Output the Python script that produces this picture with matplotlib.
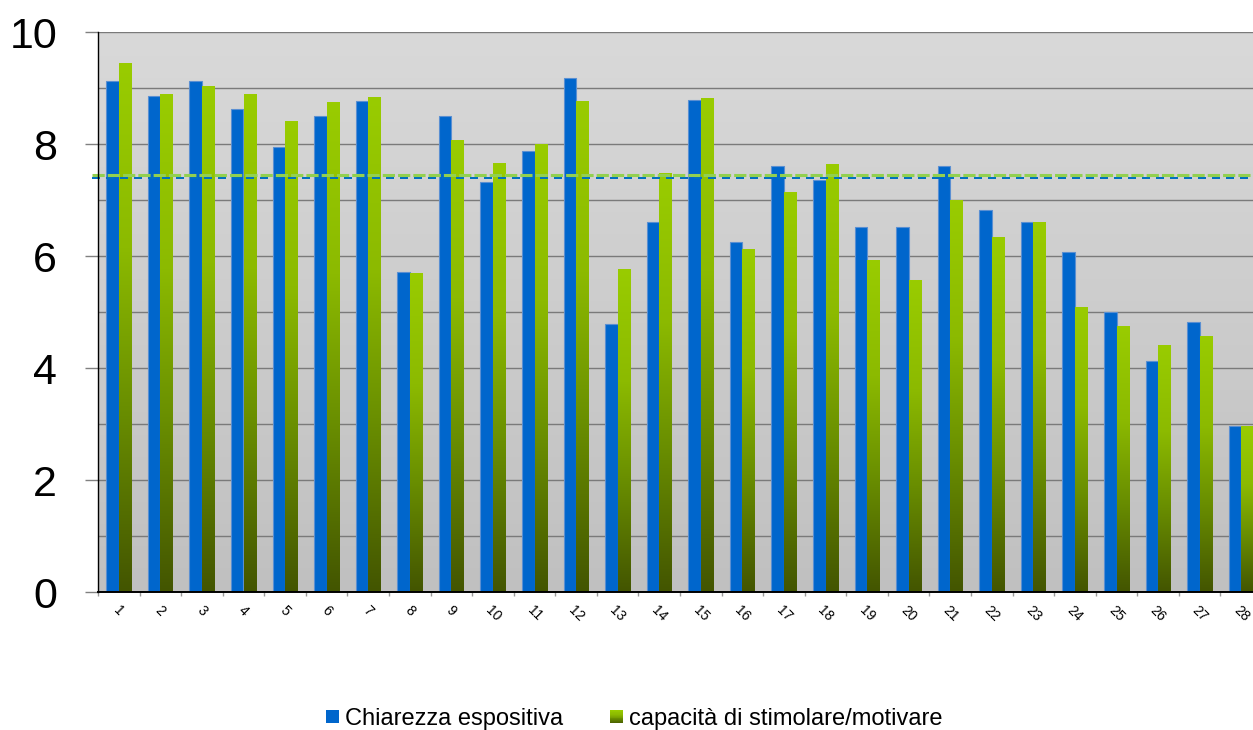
import numpy as np
import matplotlib
matplotlib.use('Agg')
import matplotlib.pyplot as plt
from matplotlib.colors import LinearSegmentedColormap
from matplotlib.patches import Rectangle, Patch
from matplotlib.legend_handler import HandlerBase
from matplotlib.ticker import MultipleLocator, FixedLocator

# ---------------- data ----------------
categories = [str(i) for i in range(1, 29)]
chiarezza = [9.13, 8.85, 9.13, 8.63, 7.94, 8.50, 8.76, 5.72, 8.50, 7.32,
             7.88, 9.18, 4.79, 6.61, 8.79, 6.25, 7.61, 7.35, 6.52, 6.51,
             7.60, 6.82, 6.61, 6.08, 5.00, 4.12, 4.83, 2.96]
capacita = [9.45, 8.89, 9.04, 8.89, 8.41, 8.75, 8.84, 5.70, 8.07, 7.66,
            8.00, 8.77, 5.77, 7.48, 8.82, 6.13, 7.14, 7.64, 5.93, 5.57,
            7.00, 6.34, 6.61, 5.09, 4.75, 4.41, 4.57, 2.96]
series_names = ['Chiarezza espositiva', 'capacità di stimolare/motivare']
ref_chiarezza = 7.40
ref_capacita = 7.45
yticks = [0, 2, 4, 6, 8, 10]

# ---------------- style ----------------
plt.rcParams['font.family'] = ['Liberation Sans', 'DejaVu Sans']
BLUE = '#0066cc'
green_cmap = LinearSegmentedColormap.from_list(
    'g', [(0.0, '#435500'), (0.35, '#6a8f00'), (0.65, '#8cba00'), (1.0, '#99cc00')])
bg_cmap = LinearSegmentedColormap.from_list('bg', ['#c0c0c0', '#d9d9d9'])

fig = plt.figure(figsize=(12.53, 7.30), dpi=100)
ax = fig.add_axes([98 / 1253, 1 - 592 / 730, 1164 / 1253, 560 / 730])

x = np.arange(len(categories))
bw = 0.30

# background gradient
grad = np.linspace(0, 1, 256).reshape(-1, 1)
ax.imshow(grad, extent=[0, 1, 0, 1], transform=ax.transAxes, origin='lower',
          cmap=bg_cmap, aspect='auto', zorder=0)

ax.bar(x - 0.15, chiarezza, width=bw, color=BLUE, edgecolor='#5a8fd2',
       linewidth=0.8, zorder=2)
gbars = ax.bar(x + 0.15, capacita, width=bw, color='#99cc00', edgecolor='none',
               zorder=2)
for b in gbars:
    x0, y0 = b.get_x(), b.get_y()
    w, h = b.get_width(), b.get_height()
    im = ax.imshow(grad, extent=[x0, x0 + w, y0, y0 + h], origin='lower',
                   cmap=green_cmap, aspect='auto', zorder=2.1)
    im.set_clip_path(b)

# reference dashed lines
ax.axhline(ref_chiarezza, xmin=-0.005, xmax=1, color='#0070c0', lw=1.44,
           dashes=(4, 3), zorder=3, clip_on=False)
ax.axhline(ref_capacita, xmin=-0.005, xmax=1, color='#92d050', lw=2.2,
           dashes=(4, 1), zorder=3.1, clip_on=False)

ax.set_xlim(-0.5, len(categories) - 0.5)
ax.set_ylim(0, 10)
ax.set_aspect('auto')

# axes / ticks
for s in ['top', 'right']:
    ax.spines[s].set_visible(False)
ax.spines['left'].set_color('black')
ax.spines['left'].set_linewidth(1.0)
ax.spines['bottom'].set_color('black')
ax.spines['bottom'].set_linewidth(1.4)
ax.spines['left'].set_zorder(4)
ax.spines['bottom'].set_zorder(4)

ax.set_yticks(yticks)
ax.set_yticklabels([str(v) for v in yticks], fontsize=31)
ax.yaxis.set_minor_locator(MultipleLocator(1))
ax.tick_params(axis='y', which='major', length=9.4, width=1, color='#808080', pad=20)
ax.tick_params(axis='y', which='minor', length=0)
ax.yaxis.grid(True, which='both', color='#7a7a7a', lw=1.0)
ax.set_axisbelow(True)

ax.set_xticks(x)
ax.set_xticklabels(categories, fontsize=10, rotation=-45, ha='center', va='top')
ax.xaxis.set_minor_locator(FixedLocator(np.arange(-0.5, len(categories), 1.0)))
ax.tick_params(axis='x', which='major', length=0, pad=8)
ax.tick_params(axis='x', which='minor', length=3, width=1, color='#9a9a9a')


# legend with gradient patch
class GradHandler(HandlerBase):
    def create_artists(self, legend, orig_handle, xdescent, ydescent,
                       width, height, fontsize, trans):
        n = 16
        arts = []
        for i in range(n):
            r = Rectangle((-xdescent, -ydescent + i * height / n), width,
                          height / n + 0.01, facecolor=green_cmap((i + 0.5) / n),
                          edgecolor='none', transform=trans)
            arts.append(r)
        return arts


h1 = Patch(facecolor=BLUE, edgecolor='none')
h2 = Patch(facecolor='#99cc00', edgecolor='none')
fig.legend([h1, h2], series_names, loc='center', bbox_to_anchor=(0.506, 0.0150),
           ncol=2, frameon=False, fontsize=17, handlelength=0.55, handleheight=0.5,
           handletextpad=0.25, columnspacing=2.0, borderaxespad=0, borderpad=0,
           handler_map={h2: GradHandler()})

fig.savefig('out.png', dpi=100)
